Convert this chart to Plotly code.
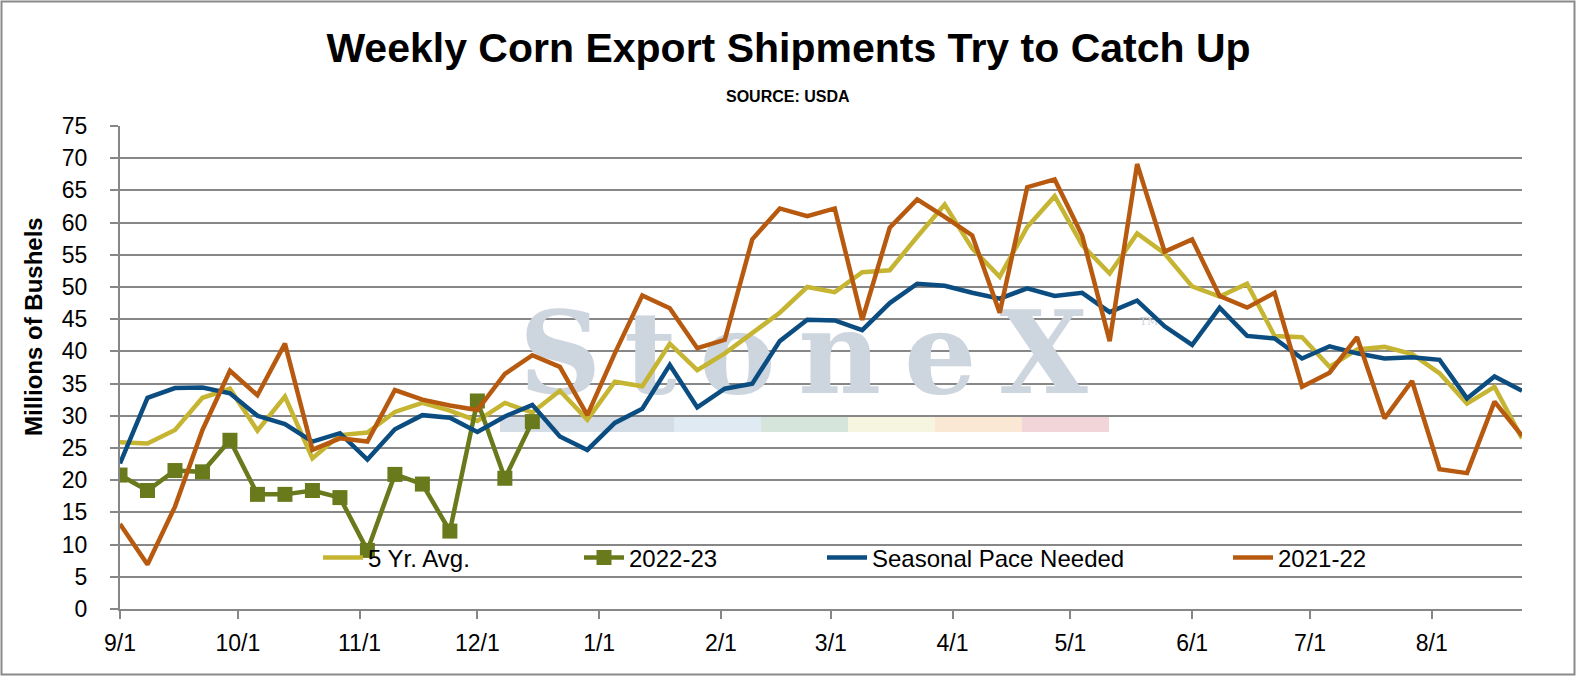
import pandas as pd
import plotly.graph_objects as go

# weekly dates, marketing year Sep-Aug
weeks = pd.date_range("2022-09-01", periods=52, freq="7D")

avg_5yr = [25.9, 25.7, 27.8, 32.8, 34.2, 27.7, 33.0, 23.4, 27.0, 27.4, 30.6, 32.0, 30.8, 29.2,
           32.0, 30.5, 33.9, 29.4, 35.3, 34.6, 41.2, 37.1, 39.7, 42.8, 46.0, 50.0, 49.2,
           52.3, 52.6, 57.8, 62.8, 56.0, 51.6, 59.3, 64.1, 56.5, 52.1, 58.3, 55.2, 50.1,
           48.5, 50.5, 42.4, 42.2, 37.6, 40.3, 40.7, 39.6, 36.6, 31.9, 34.5, 26.5]

mkt_2022_23 = [20.8, 18.4, 21.5, 21.3, 26.2, 17.8, 17.8, 18.4, 17.3, 9.1, 20.9, 19.4, 12.1, 32.3,
               20.3, 29.1]

pace_needed = [22.6, 32.8, 34.3, 34.4, 33.5, 30.0, 28.7, 26.0, 27.3, 23.2, 27.9, 30.1, 29.7, 27.5,
               29.9, 31.7, 26.8, 24.7, 28.9, 31.1, 37.9, 31.3, 34.2, 35.0, 41.6, 44.9, 44.8,
               43.3, 47.5, 50.5, 50.2, 49.1, 48.2, 49.8, 48.6, 49.1, 46.1, 47.9, 43.9, 41.0,
               46.8, 42.4, 42.0, 38.9, 40.8, 39.7, 38.9, 39.1, 38.7, 32.7, 36.1, 33.9]

mkt_2021_22 = [13.2, 6.9, 15.9, 27.8, 37.0, 33.2, 41.2, 24.7, 26.5, 26.0, 34.0, 32.5, 31.6, 30.9,
               36.5, 39.4, 37.6, 30.1, 39.7, 48.7, 46.7, 40.5, 41.8, 57.4, 62.2, 61.0, 62.2,
               44.9, 59.2, 63.6, 60.9, 58.0, 46.0, 65.5, 66.7, 58.0, 41.6, 69.1, 55.5, 57.4,
               48.6, 46.8, 49.1, 34.5, 36.7, 42.2, 29.6, 35.4, 21.7, 21.1, 32.2, 26.9]

y_ticks = list(range(0, 80, 5))

W, H = 1577, 677
ML, MR, MT, MB = 120, 55, 126, 68
PW, PH = W - ML - MR, H - MT - MB

FONT = "Liberation Sans, Arial, sans-serif"
GRID = "#878787"


def px_x(p):
    return (p - ML) / PW


def px_y(p):
    return (H - MB - p) / PH


fig = go.Figure()

# StoneX watermark sits under the data lines
gap = "\u2009"
fig.add_trace(go.Scatter(
    x=[pd.Timestamp("2023-02-22"), pd.Timestamp("2023-05-21")],
    y=[38.0, 44.6],
    mode="text",
    text=["<b>" + gap.join("StoneX") + "</b>", "TM"],
    textfont=dict(family="DejaVu Serif, Liberation Serif, serif", size=[114, 11],
                  color="#cdd5df"),
    textposition="middle center",
    hoverinfo="skip",
    showlegend=False,
))

fig.add_trace(go.Scatter(x=weeks, y=avg_5yr, name="5 Yr. Avg.", mode="lines",
                         line=dict(color="#c6b532", width=4.5), legend="legend"))
fig.add_trace(go.Scatter(x=weeks[:len(mkt_2022_23)], y=mkt_2022_23, name="2022-23",
                         mode="lines+markers",
                         line=dict(color="#687a1b", width=4.5),
                         marker=dict(symbol="square", size=15, color="#687a1b"),
                         legend="legend2"))
fig.add_trace(go.Scatter(x=weeks, y=pace_needed, name="Seasonal Pace Needed", mode="lines",
                         line=dict(color="#0b4d80", width=4.5), legend="legend3"))
fig.add_trace(go.Scatter(x=weeks, y=mkt_2021_22, name="2021-22", mode="lines",
                         line=dict(color="#b75a10", width=4.5), legend="legend4"))

# coloured strip of the watermark logo
strip_colors = ["#d4dce5", "#d4dce6", "#dfeaf3", "#d6e5dc", "#f6f5df", "#fbe8d4", "#f2d5d8"]
strip_x0, strip_w = 500, 87
shapes = []
for i, c in enumerate(strip_colors):
    shapes.append(dict(type="rect", xref="paper", yref="paper", layer="below",
                       x0=px_x(strip_x0 + i * strip_w), x1=px_x(strip_x0 + (i + 1) * strip_w),
                       y0=px_y(432), y1=px_y(417), fillcolor=c, line=dict(width=0)))
# outer chart frame
shapes.append(dict(type="rect", xref="paper", yref="paper", layer="above",
                   x0=px_x(1.5), x1=px_x(W - 2.5), y0=px_y(H - 2.5), y1=px_y(1.5),
                   line=dict(color="#8a8a8a", width=2)))

legend_base = dict(orientation="h", yanchor="middle", xanchor="left", y=px_y(558),
                   bgcolor="rgba(0,0,0,0)", borderwidth=0, itemwidth=40,
                   font=dict(family=FONT, size=24, color="black"))

fig.update_layout(
    width=W, height=H,
    margin=dict(l=ML, r=MR, t=MT, b=MB),
    paper_bgcolor="white", plot_bgcolor="white",
    font=dict(family=FONT, color="black"),
    title=dict(text="<b>Weekly Corn Export Shipments Try to Catch Up</b>",
               x=0.5, xanchor="center", y=1 - 48 / H, yanchor="middle",
               font=dict(family=FONT, size=41, color="black")),
    legend=dict(legend_base, x=px_x(318)),
    legend2=dict(legend_base, x=px_x(579)),
    legend3=dict(legend_base, x=px_x(822)),
    legend4=dict(legend_base, x=px_x(1228)),
    shapes=shapes,
    annotations=[
        dict(text="<b>SOURCE: USDA</b>", xref="paper", yref="paper",
             x=px_x(788), y=px_y(97), xanchor="center", yanchor="middle",
             showarrow=False, font=dict(family=FONT, size=16, color="black")),
        dict(text="<b>Millions of Bushels</b>", xref="paper", yref="paper",
             x=px_x(33), y=px_y(327), xanchor="center", yanchor="middle", textangle=-90,
             showarrow=False, font=dict(family=FONT, size=24, color="black")),
    ],
)

fig.update_xaxes(
    range=[weeks[0], weeks[-1]],
    tickformat="%-m/%-d", dtick="M1", tick0="2022-09-01",
    showgrid=False, showline=True, linecolor=GRID, linewidth=2,
    ticks="outside", ticklen=8, tickwidth=2, tickcolor=GRID,
    tickfont=dict(family=FONT, size=23, color="black"),
    ticklabelstandoff=4,
    zeroline=False, fixedrange=True,
)
fig.update_yaxes(
    range=[0, 75], tickvals=y_ticks,
    showgrid=True, gridcolor=GRID, gridwidth=2,
    showline=True, linecolor=GRID, linewidth=2,
    ticks="outside", ticklen=8, tickwidth=2, tickcolor=GRID,
    tickfont=dict(family=FONT, size=23, color="black"),
    ticklabelstandoff=18,
    zeroline=False, fixedrange=True,
)

fig.write_html("out.html", config={"displayModeBar": False},
               post_script="document.body.style.margin='0';document.body.style.overflow='hidden';")
